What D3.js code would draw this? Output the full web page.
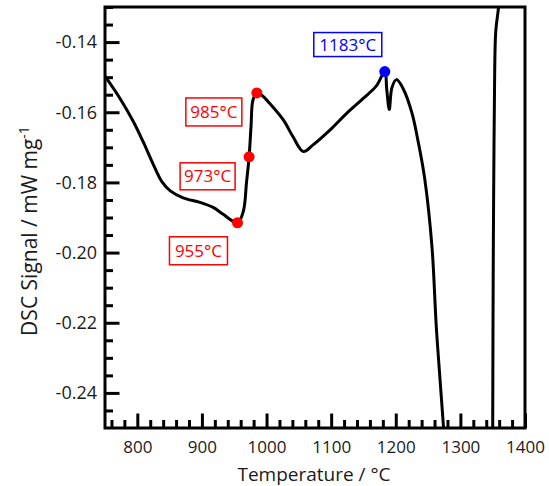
<!DOCTYPE html>
<html>
<head>
<meta charset="utf-8">
<script src="https://cdn.jsdelivr.net/npm/d3@7"></script>
<style>
  html, body { margin: 0; padding: 0; background: #fff; }
  svg { display: block; font-family: "Open Sans", "Noto Sans", sans-serif; }
</style>
</head>
<body>
<svg id="chart" width="549" height="486"></svg>
<script>
// ---- data ----
const temps = [750, 773, 794, 809, 825, 838, 851, 871, 897, 918, 933, 955, 964, 969, 973, 976, 979, 985, 993,
  1005, 1026, 1041, 1057, 1072, 1098, 1124, 1150, 1170, 1183, 1186, 1190, 1194, 1201, 1212, 1225, 1235, 1245, 1256, 1263,
  1274, 1290, 1345, 1349.5, 1350, 1350.5, 1351, 1352, 1353, 1354.7, 1358.7, 1361];
const signal = [-0.1497, -0.1560, -0.1627, -0.1684, -0.1750, -0.1798, -0.1824, -0.1844, -0.1857, -0.1872, -0.1891,
  -0.1915, -0.1883, -0.1800, -0.1727, -0.1640, -0.1565, -0.1545, -0.1552,
  -0.1575, -0.1622, -0.1670, -0.1712, -0.1693, -0.1651, -0.1603, -0.1560, -0.1525, -0.1484, -0.1535, -0.1592, -0.1530,
  -0.1507, -0.1535, -0.1602, -0.1687, -0.1792, -0.1983, -0.2220,
  -0.2500, -0.2950, -0.2950, -0.2700, -0.2500, -0.2200, -0.1980, -0.1700, -0.1500, -0.1370, -0.1306, -0.1250];

const markerTemps = [955, 973, 985, 1183];
const markerSignal = [-0.1915, -0.1727, -0.1545, -0.1484];
const markerLabels = ["955°C", "973°C", "985°C", "1183°C"];
const markerColors = ["#ff0000", "#ff0000", "#ff0000", "#0000ff"];

const xMajorTicks = [800, 900, 1000, 1100, 1200, 1300, 1400];
const yMajorTicks = [-0.14, -0.16, -0.18, -0.20, -0.22, -0.24];

// ---- layout ----
const L = 105, R = 525, T = 7, B = 428;
const labelOffsets = [[-39, 28], [-41.5, 19.5], [-43, 19], [-37, -27]];
const boxSizes = [[58, 28], [55, 27], [56, 28], [68, 24]];

const svg = d3.select("#chart");
const x = d3.scaleLinear().domain([750, 1400]).range([L, R]);
const y = d3.scaleLinear().domain([-0.25, -0.13]).range([B, T]);

svg.append("defs").append("clipPath").attr("id", "clip")
  .append("rect").attr("x", L).attr("y", T).attr("width", R - L).attr("height", B - T);

// minor ticks
const xMinor = d3.range(760, 1400, 20).filter(v => !xMajorTicks.includes(v));
const yMinor = d3.range(-0.245, -0.1299, 0.005).map(v => +v.toFixed(3)).filter(v => !yMajorTicks.some(m => Math.abs(m - v) < 1e-6));

const gxMinor = svg.append("g").attr("transform", `translate(0,${B})`)
  .call(d3.axisBottom(x).tickValues(xMinor).tickSize(-8).tickFormat(""));
const gx = svg.append("g").attr("transform", `translate(0,${B})`)
  .call(d3.axisBottom(x).tickValues(xMajorTicks).tickSize(-14.5).tickFormat(d3.format("d")));
const gyMinor = svg.append("g").attr("transform", `translate(${L},0)`)
  .call(d3.axisLeft(y).tickValues(yMinor).tickSize(-8).tickFormat(""));
const gy = svg.append("g").attr("transform", `translate(${L},0)`)
  .call(d3.axisLeft(y).tickValues(yMajorTicks).tickSize(-14.5).tickPadding(8).tickFormat(d => d.toFixed(2)));

[gxMinor, gx, gyMinor, gy].forEach(g => {
  g.select(".domain").remove();
  g.selectAll(".tick line").attr("stroke", "#000").attr("stroke-width", 3);
  g.selectAll(".tick text").attr("fill", "#1a1a1a").style("font-family", "'Open Sans', sans-serif");
});
gx.selectAll(".tick text").attr("dy", "0").attr("y", 25).style("font-size", "17px");
gy.selectAll(".tick text").style("font-size", "18px");

// curve
const pts = temps.map((t, i) => [t, signal[i]]);
const line = d3.line().x(d => x(d[0])).y(d => y(d[1])).curve(d3.curveCatmullRom.alpha(0.5));
svg.append("path").datum(pts).attr("clip-path", "url(#clip)")
  .attr("d", line).attr("fill", "none").attr("stroke", "#000").attr("stroke-width", 3)
  .attr("stroke-linejoin", "round");

// frame
svg.append("rect").attr("x", L).attr("y", T).attr("width", R - L).attr("height", B - T)
  .attr("fill", "none").attr("stroke", "#000").attr("stroke-width", 3);

// markers & labels
markerTemps.forEach((t, i) => {
  const cx = x(t), cy = y(markerSignal[i]);
  svg.append("circle").attr("cx", cx).attr("cy", cy).attr("r", 5.5).attr("fill", markerColors[i]);
  const lx = cx + labelOffsets[i][0], ly = cy + labelOffsets[i][1];
  const [bw, bh] = boxSizes[i];
  svg.append("rect").attr("x", lx - bw / 2).attr("y", ly - bh / 2).attr("width", bw).attr("height", bh)
    .attr("fill", "#fff").attr("stroke", markerColors[i]).attr("stroke-width", 1.5);
  svg.append("text").attr("x", lx).attr("y", ly).attr("dy", "0.36em").attr("text-anchor", "middle")
    .attr("fill", markerColors[i]).style("font-size", "17px").text(markerLabels[i]);
});

// axis titles
svg.append("text").attr("x", (L + R) / 2 - 1).attr("y", 481).attr("text-anchor", "middle")
  .attr("fill", "#1a1a1a").style("font-size", "19px").text("Temperature / °C");

const yt = svg.append("text").attr("transform", `translate(37,231) rotate(-90)`)
  .attr("text-anchor", "middle").attr("fill", "#1a1a1a").style("font-size", "21px");
yt.append("tspan").text("DSC Signal / mW mg");
yt.append("tspan").attr("dy", "-0.6em").style("font-size", "14px").text("-1");
</script>
</body>
</html>
